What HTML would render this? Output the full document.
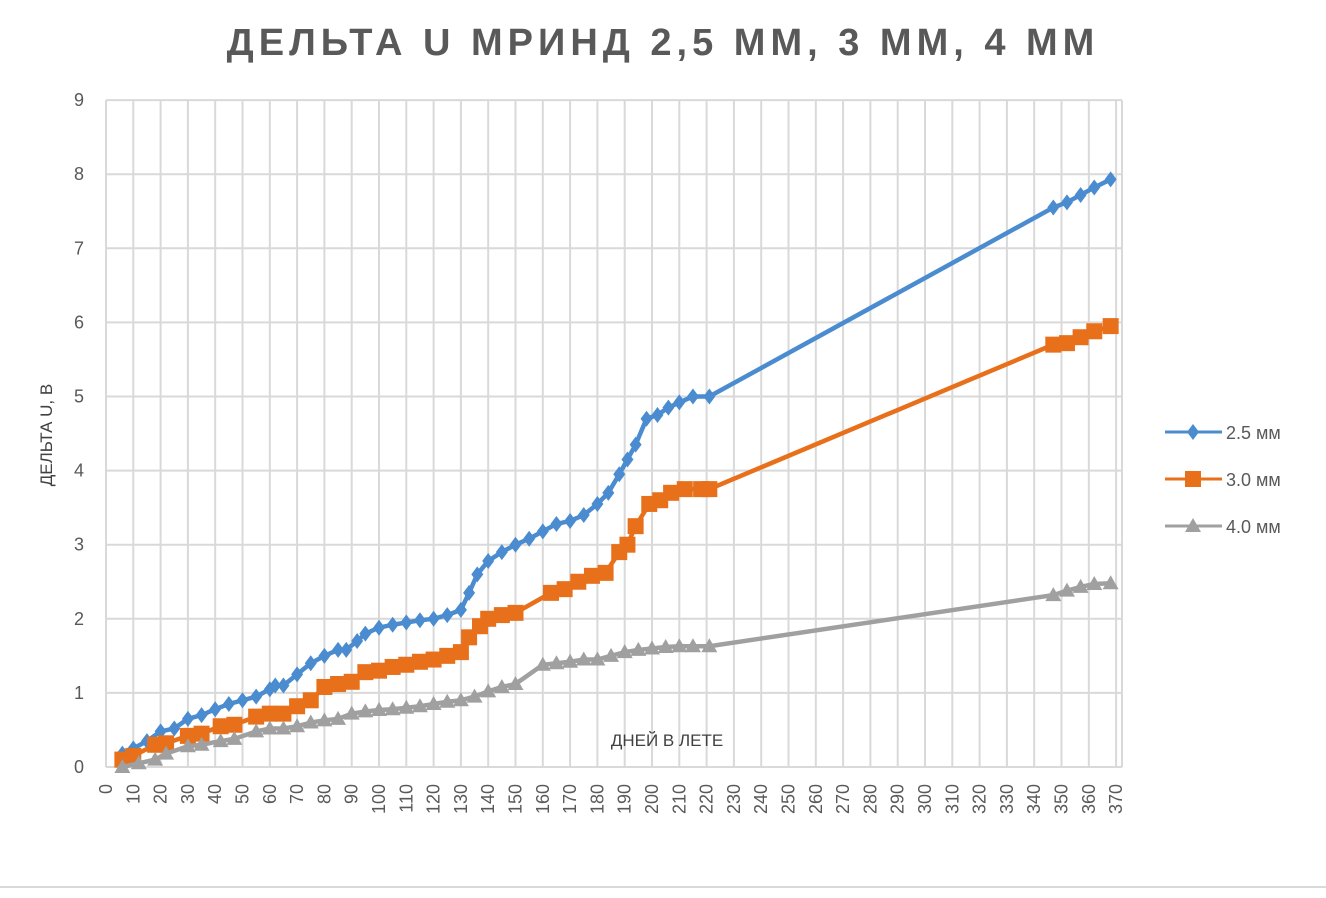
<!DOCTYPE html>
<html><head><meta charset="utf-8"><style>
body{margin:0;background:#fff;width:1326px;height:893px;overflow:hidden;font-family:"Liberation Sans",sans-serif}
</style></head><body>
<svg id="c" width="1326" height="893" xmlns="http://www.w3.org/2000/svg">
<text x="663" y="55" text-anchor="middle" font-size="38" font-weight="bold" fill="#595959" letter-spacing="5">ДЕЛЬТА  U МРИНД 2,5 ММ, 3 ММ, 4 ММ</text>
<text transform="translate(52,435) rotate(-90)" text-anchor="middle" font-size="17" fill="#404040">ДЕЛЬТА U, В</text>
<g id="grid"></g><g id="series"></g>
<text x="667" y="746" text-anchor="middle" font-size="17" fill="#404040">ДНЕЙ В ЛЕТЕ</text>
<line x1="0" y1="887" x2="1326" y2="887" stroke="#d9d9d9" stroke-width="2"/>
<g id="legend"></g>
</svg>
<script>
const xTicks=[0,10,20,30,40,50,60,70,80,90,100,110,120,130,140,150,160,170,180,190,200,210,220,230,240,250,260,270,280,290,300,310,320,330,340,350,360,370];
const yTicks=[0,1,2,3,4,5,6,7,8,9];
const seriesNames=["2.5 мм","3.0 мм","4.0 мм"];
const days25=[6,10,15,20,25,30,35,40,45,50,55,60,62,65,70,75,80,85,88,92,95,100,105,110,115,120,125,130,133,136,140,145,150,155,160,165,170,175,180,184,188,191,194,198,202,206,210,215,221,347,352,357,362,368];
const vals25=[0.18,0.25,0.35,0.48,0.52,0.65,0.7,0.78,0.85,0.9,0.95,1.05,1.1,1.1,1.25,1.4,1.5,1.58,1.58,1.7,1.8,1.88,1.92,1.95,1.98,2.0,2.05,2.12,2.35,2.6,2.78,2.9,3.0,3.08,3.18,3.28,3.32,3.4,3.55,3.7,3.95,4.15,4.35,4.7,4.75,4.85,4.92,5.0,5.0,7.55,7.62,7.72,7.82,7.93];
const days30=[6,10,18,22,30,35,42,47,55,60,65,70,75,80,85,90,95,100,105,110,115,120,125,130,133,137,140,145,150,163,168,173,178,183,188,191,194,199,203,207,212,218,221,347,352,357,362,368];
const vals30=[0.1,0.15,0.3,0.32,0.42,0.45,0.55,0.57,0.68,0.72,0.72,0.82,0.9,1.08,1.12,1.15,1.28,1.3,1.35,1.38,1.42,1.45,1.5,1.55,1.75,1.9,2.0,2.05,2.08,2.35,2.4,2.5,2.58,2.62,2.9,3.0,3.25,3.55,3.6,3.7,3.75,3.75,3.75,5.7,5.72,5.8,5.88,5.95];
const days40=[6,12,18,22,30,35,42,47,55,60,65,70,75,80,85,90,95,100,105,110,115,120,125,130,135,140,145,150,160,165,170,175,180,185,190,195,200,205,210,215,221,347,352,357,362,368];
const vals40=[0.0,0.05,0.1,0.18,0.28,0.3,0.35,0.38,0.48,0.52,0.52,0.55,0.6,0.63,0.65,0.72,0.75,0.77,0.78,0.8,0.82,0.85,0.88,0.9,0.95,1.02,1.08,1.12,1.38,1.4,1.42,1.45,1.45,1.5,1.55,1.58,1.6,1.62,1.63,1.63,1.63,2.32,2.38,2.43,2.47,2.48];
const NS="http://www.w3.org/2000/svg";
const X0=106,XS=2.73,Y0=767,YS=74.1,XR=1122;
const sx=d=>X0+d*XS, sy=v=>Y0-v*YS;
function mk(t,a,p){const e=document.createElementNS(NS,t);for(const k in a)e.setAttribute(k,a[k]);p.appendChild(e);return e;}
const grid=document.getElementById('grid');
yTicks.forEach(v=>{
 const l=mk('line',{x1:X0,x2:XR,y1:sy(v),y2:sy(v),stroke:'#d9d9d9','stroke-width':2},grid);
 
 
 const t=mk('text',{x:84,y:sy(v)+6,'text-anchor':'end','font-size':18,fill:'#595959'},grid);t.textContent=v;
 
 
});
xTicks.forEach(d=>{
 const l=mk('line',{x1:sx(d),x2:sx(d),y1:sy(9),y2:Y0,stroke:'#d9d9d9','stroke-width':2},grid);
 
 
 const t=mk('text',{transform:`translate(${sx(d)+6},784) rotate(-90)`,'text-anchor':'end','font-size':18,fill:'#595959'},grid);t.textContent=d;
 
 
});
const rl=mk('line',{x1:XR,x2:XR,y1:sy(9),y2:Y0,stroke:'#d9d9d9','stroke-width':2},grid);


const colors=['#4a8ccf','#e8701a','#a0a0a0'];
function marker(kind,x,y,c,p){
 let e;
 if(kind==0)e=mk('polygon',{points:`${x},${y-8} ${x+6},${y} ${x},${y+8} ${x-6},${y}`,fill:c},p);
 else if(kind==1)e=mk('rect',{x:x-8,y:y-8,width:16,height:16,fill:c},p);
 else e=mk('polygon',{points:`${x},${y-8} ${x+8},${y+6} ${x-8},${y+6}`,fill:c},p);
 return e;
}
const sg=document.getElementById('series');
[[days25,vals25],[days30,vals30],[days40,vals40]].forEach(([ds,vs],i)=>{
 const g=mk('g',{},sg);
 
 
 const pl=mk('polyline',{points:ds.map((d,j)=>sx(d)+','+sy(vs[j])).join(' '),fill:'none',stroke:colors[i],'stroke-width':4.5},g);
 
 
 ds.forEach((d,j)=>{const m=marker(i,sx(d),sy(vs[j]),colors[i],g);
  
  });
});
const lg=document.getElementById('legend');
seriesNames.forEach((n,i)=>{
 const y=432+i*47;
 const g=mk('g',{},lg);
 
 
 mk('line',{x1:1165,x2:1222,y1:y,y2:y,stroke:colors[i],'stroke-width':3},g);
 marker(i,1193,y,colors[i],g);
 const t=mk('text',{x:1226,y:y+7,'font-size':18,fill:'#595959'},g);t.textContent=n.replace(' ','  ');
});
</script>
</body></html>
